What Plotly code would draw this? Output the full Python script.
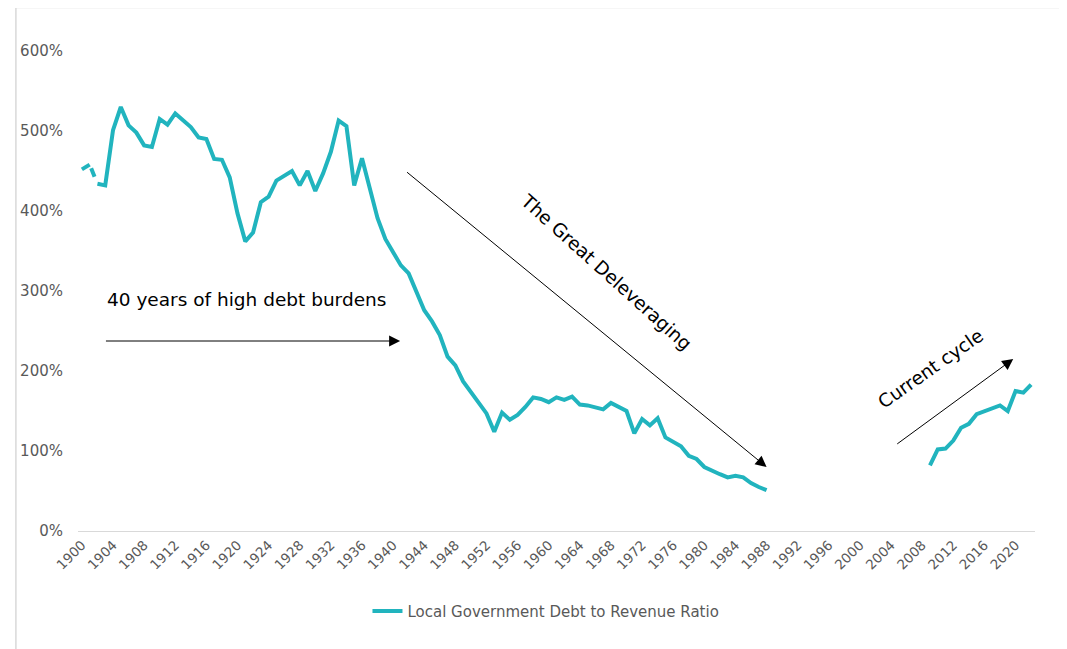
import plotly.graph_objects as go

# ---- data ----
years = list(range(1900, 2023))
ratio_1900s = [452, 458, 434, 432, 501, 530, 507, 498, 482, 480,
               515, 508, 522, 514, 505, 492, 490, 465, 464, 442]
ratio_1920s = [397, 362, 373, 411, 418, 438, 444, 450, 432, 450,
               425, 447, 474, 513, 506, 432, 466, 428, 391, 365]
ratio_1940s = [349, 332, 322, 299, 276, 262, 245, 218, 207, 187,
               174, 162, 147, 124, 148, 139, 145, 155, 167, 165]
ratio_1960s = [161, 167, 164, 168, 158, 157, 155, 152, 160, 155,
               150, 122, 140, 132, 141, 117, 112, 106, 94, 90]
ratio_1980s = [80, 75, 71, 67, 69, 67, 60, 55, 51]
ratio_gap = [None] * 20  # 1989-2008 not reported
ratio_2009on = [82, 102, 103, 113, 129, 134, 146, 150, 154, 157,
                150, 175, 173, 183]

ratio = (ratio_1900s + ratio_1920s + ratio_1940s + ratio_1960s
         + ratio_1980s + ratio_gap + ratio_2009on)

tick_years = list(range(1900, 2021, 4))
y_ticks = [0, 100, 200, 300, 400, 500, 600]

series_name = "Local Government Debt to Revenue Ratio"
line_color = "#21B4BE"
txt_grey = "#595959"
font_fam = "DejaVu Sans, Verdana, sans-serif"

# solid line with the 1901-1902 link rendered broken, as in the source
solid_first = [v if y <= 1901 else None for y, v in zip(years, ratio)]
solid_rest = [v if y >= 1902 else None for y, v in zip(years, ratio)]
dash_part = [v if y in (1901, 1902) else None for y, v in zip(years, ratio)]

fig = go.Figure()
fig.add_trace(go.Scatter(x=years, y=solid_rest, mode="lines", name=series_name,
                         line=dict(color=line_color, width=4), connectgaps=False,
                         showlegend=True))
fig.add_trace(go.Scatter(x=years, y=solid_first, mode="lines", showlegend=False,
                         line=dict(color=line_color, width=4)))
fig.add_trace(go.Scatter(x=years, y=dash_part, mode="lines", showlegend=False,
                         line=dict(color=line_color, width=4,
                                   dash="0px,4px,9px,40px")))

anno_font = dict(family=font_fam, size=18.5, color="black")
annotations = [
    dict(x=1921.1, y=289, xref="x", yref="y", text="40 years of high debt burdens",
         showarrow=False, font=anno_font, xanchor="center", yanchor="middle"),
    dict(x=1967.3, y=324, xref="x", yref="y", text="The Great Deleveraging",
         showarrow=False, font=anno_font, textangle=42,
         xanchor="center", yanchor="middle"),
    dict(x=2009.1, y=203, xref="x", yref="y", text="Current cycle",
         showarrow=False, font=anno_font, textangle=-35,
         xanchor="center", yanchor="middle"),
]
arrows = [
    ((1902.9, 237.5), (1940.9, 237.5)),
    ((1941.6, 450), (1988.0, 80)),
    ((2004.6, 107.5), (2019.7, 215)),
]
for (tx, ty), (hx, hy) in arrows:
    annotations.append(dict(x=hx, y=hy, ax=tx, ay=ty, xref="x", yref="y",
                            axref="x", ayref="y", text="", showarrow=True,
                            arrowhead=2, arrowsize=2.2, arrowwidth=1,
                            arrowcolor="black", standoff=0, startstandoff=0))

fig.update_layout(
    width=1059, height=641,
    margin=dict(l=64, r=32, t=43, b=118),
    paper_bgcolor="white", plot_bgcolor="white",
    font=dict(family=font_fam, color=txt_grey),
    showlegend=True,
    legend=dict(orientation="h", x=0.489, xanchor="center", y=-0.167,
                yanchor="middle", font=dict(size=15, color=txt_grey),
                bgcolor="rgba(0,0,0,0)"),
    annotations=annotations,
    shapes=[dict(type="rect", xref="paper", yref="paper",
                 x0=-0.0649, x1=1.06, y0=-0.3, y1=1.0906,
                 line=dict(color="#d9d9d9", width=1.5), layer="below")],
)
fig.update_xaxes(range=[1899.5, 2022.5], tickmode="array", tickvals=tick_years,
                 ticktext=[str(t) for t in tick_years], tickangle=-45,
                 tickfont=dict(size=13.5, color=txt_grey), showgrid=False,
                 zeroline=False, showline=True, linecolor="#d9d9d9", linewidth=1,
                 ticks="")
fig.update_yaxes(range=[0, 600], tickmode="array", tickvals=y_ticks,
                 ticktext=[f"{t}%" for t in y_ticks],
                 tickfont=dict(size=15, color=txt_grey), showgrid=False,
                 zeroline=False, showline=False, ticks="", ticklabelstandoff=14)

fig.write_html("out.html")
